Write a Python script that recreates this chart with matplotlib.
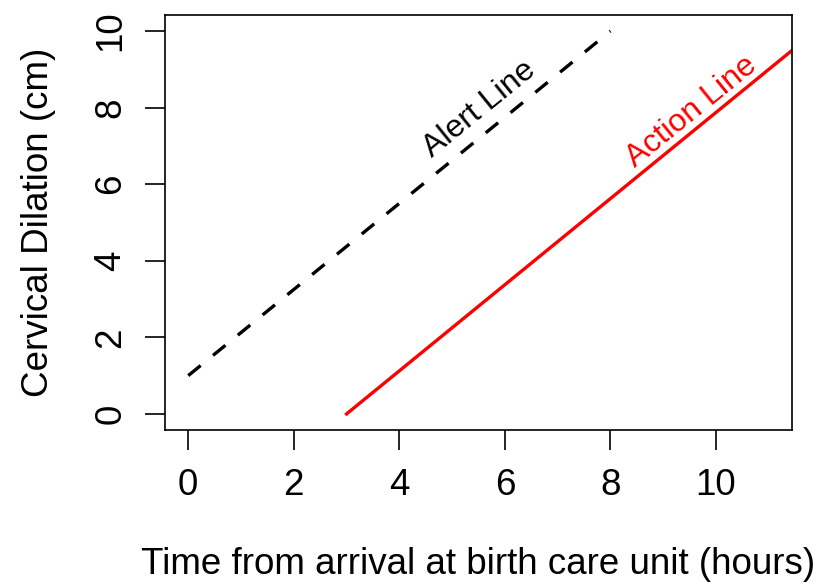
import numpy as np
import matplotlib.pyplot as plt

plt.rcParams['font.family'] = ['Liberation Sans', 'DejaVu Sans']

# partograph lines: hours vs cervical dilation
alert_x = [0, 8]
alert_y = [1, 10]
action_x = [3, 12]
action_y = [0, 10.125]

x_ticks = [0, 2, 4, 6, 8, 10]
y_ticks = [0, 2, 4, 6, 8, 10]

fig = plt.figure(figsize=(8.22, 5.84), dpi=100)
ax = fig.add_axes([165 / 822, 1 - 430 / 584, (792 - 165) / 822, (430 - 15) / 584])

ax.plot(alert_x, alert_y, color='black', lw=2.4, dashes=(4.8, 4.8))
ax.plot(action_x, action_y, color='red', lw=2.4)

ax.set_xlim(-0.44, 11.44)
ax.set_ylim(-0.42, 10.42)

ax.text(5.52, 7.95, 'Alert Line', rotation=39, fontsize=23, ha='center', va='center',
        color='black', rotation_mode='anchor')
ax.text(9.53, 7.9, 'Action Line', rotation=39, fontsize=23, ha='center', va='center',
        color='red', rotation_mode='anchor')

# plain box, ticks pointing outward
for s in ax.spines.values():
    s.set_linewidth(1.2)

ax.set_xticks(x_ticks)
ax.set_yticks(y_ticks)
ax.tick_params(direction='out', length=14.4, width=1.2, labelsize=26.5)
ax.tick_params(axis='x', pad=13)
ax.tick_params(axis='y', pad=12)
ax.set_yticklabels([str(t) for t in y_ticks], rotation=90, va='center')

ax.set_xlabel('Time from arrival at birth care unit (hours)', fontsize=26.5, labelpad=32)
ax.set_ylabel('Cervical Dilation (cm)', fontsize=26.5, labelpad=27)

fig.savefig('out.png', dpi=100)
